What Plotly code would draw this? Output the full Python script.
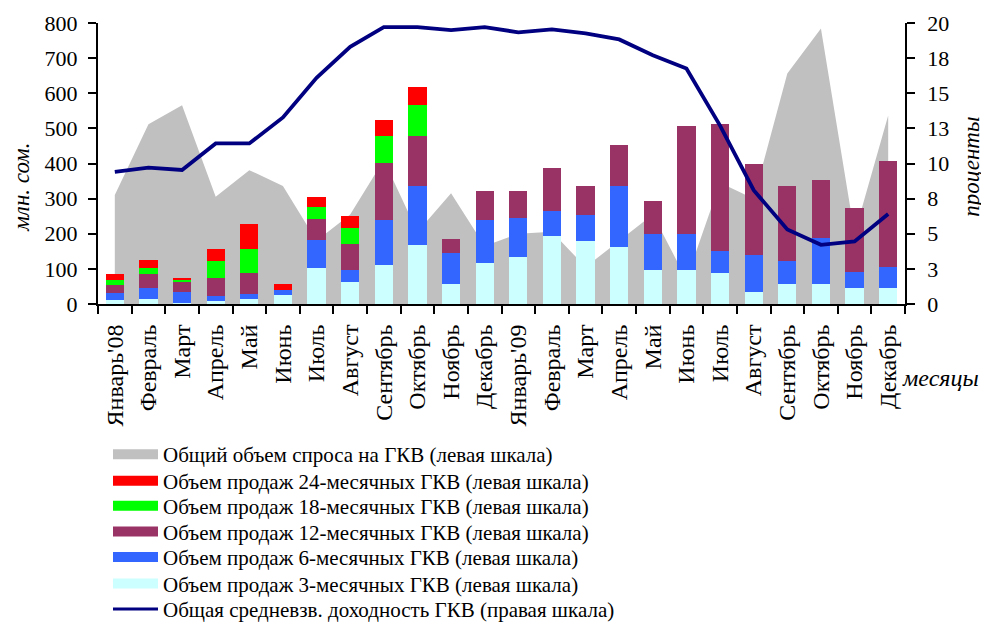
import plotly.graph_objects as go

months = ["Январь'08", "Февраль", "Март", "Апрель", "Май", "Июнь", "Июль", "Август",
          "Сентябрь", "Октябрь", "Ноябрь", "Декабрь", "Январь'09", "Февраль", "Март",
          "Апрель", "Май", "Июнь", "Июль", "Август", "Сентябрь", "Октябрь", "Ноябрь", "Декабрь"]

demand_total = [310, 512, 566, 305, 381, 336, 180, 255, 410, 205, 315, 165,
                200, 206, 105, 180, 255, 70, 345, 300, 656, 784, 200, 537]

sales_3m = [10, 15, 2, 9, 15, 27, 103, 63, 112, 168, 58, 117,
            134, 194, 180, 163, 97, 97, 89, 35, 58, 58, 46, 46]
sales_6m = [22, 31, 33, 15, 14, 14, 80, 34, 128, 168, 88, 123,
            111, 71, 74, 173, 103, 103, 62, 105, 65, 130, 46, 60]
sales_12m = [21, 40, 28, 51, 60, 0, 59, 74, 161, 142, 40, 82,
             77, 122, 82, 116, 93, 306, 361, 259, 213, 165, 182, 301]
sales_18m = [16, 17, 6, 48, 68, 0, 34, 46, 77, 88, 0, 0,
             0, 0, 0, 0, 0, 0, 0, 0, 0, 0, 0, 0]
sales_24m = [17, 23, 6, 34, 71, 17, 29, 34, 45, 51, 0, 0,
             0, 0, 0, 0, 0, 0, 0, 0, 0, 0, 0, 0]

yield_avg = [9.4, 9.7, 9.54, 11.43, 11.43, 13.28, 16.1, 18.3, 19.7, 19.7, 19.5, 19.7,
             19.34, 19.55, 19.27, 18.83, 17.7, 16.76, 12.7, 8.1, 5.3, 4.21, 4.45, 6.41]

right_tickvals = [0, 2.5, 5, 7.5, 10, 12.5, 15, 17.5, 20]
right_ticktext = ["0", "3", "5", "8", "10", "13", "15", "18", "20"]

legend_names = [
    "Общий объем спроса на ГКВ (левая шкала)",
    "Объем продаж 24-месячных ГКВ (левая шкала)",
    "Объем продаж 18-месячных ГКВ (левая шкала)",
    "Объем продаж 12-месячных ГКВ (левая шкала)",
    "Объем продаж 6-месячных ГКВ (левая шкала)",
    "Объем продаж 3-месячных ГКВ (левая шкала)",
    "Общая средневзв. доходность ГКВ (правая шкала)",
]

C_GRAY = "#C0C0C0"
C_RED = "#FF0000"
C_GREEN = "#00FF00"
C_PURPLE = "#993366"
C_BLUE = "#3366FF"
C_CYAN = "#CCFFFF"
C_NAVY = "#000080"

FONT = "Liberation Serif, Times New Roman, serif"
x = list(range(len(months)))

# The page body has an 8px margin, so the figure is placed at (8, 8) in the window.
OFF = 8
W, H = 989 - OFF, 622 - OFF
# target screen coordinates of the plot area
S_LEFT, S_RIGHT, S_TOP, S_BOT = 98, 905, 23, 304.3
pl, pr = S_LEFT - OFF, S_RIGHT - OFF
pt, pb = S_TOP - OFF, S_BOT - OFF


def px_x(p):
    return ((p - OFF) - pl) / (pr - pl)


def px_y(p):
    return (pb - (p - OFF)) / (pb - pt)


fig = go.Figure()

# area (drawn on base axis, behind everything)
fig.add_trace(go.Scatter(x=x, y=demand_total, mode="lines", fill="tozeroy",
                         fillcolor=C_GRAY, line=dict(width=0, color=C_GRAY),
                         showlegend=False, xaxis="x", yaxis="y"))

# stacked bars on overlaying axis y2
for vals, col in [(sales_3m, C_CYAN), (sales_6m, C_BLUE), (sales_12m, C_PURPLE),
                  (sales_18m, C_GREEN), (sales_24m, C_RED)]:
    fig.add_trace(go.Bar(x=x, y=vals, marker=dict(color=col, line=dict(width=0)),
                         width=0.54, showlegend=False, xaxis="x", yaxis="y2"))

# yield line on right axis y3
fig.add_trace(go.Scatter(x=x, y=yield_avg, mode="lines",
                         line=dict(color=C_NAVY, width=3.8),
                         showlegend=False, xaxis="x", yaxis="y3"))

# legend entries
leg_colors = [C_GRAY, C_RED, C_GREEN, C_PURPLE, C_BLUE, C_CYAN, C_NAVY]
leg_widths = [14, 14, 14, 14, 14, 14, 3]
leg_centers_px = [455, 481.5, 506.5, 532.5, 558, 584.5, 610]

layout_legends = {}
for i, (name, col, lw, cy) in enumerate(zip(legend_names, leg_colors, leg_widths, leg_centers_px)):
    lname = "legend" if i == 0 else f"legend{i+1}"
    fig.add_trace(go.Scatter(x=[None], y=[None], mode="lines", name=name,
                             line=dict(color=col, width=lw), legend=lname,
                             showlegend=True, xaxis="x", yaxis="y"))
    layout_legends[lname] = dict(
        x=px_x(108), xanchor="left",
        y=px_y(cy), yanchor="middle",
        bgcolor="rgba(0,0,0,0)", borderwidth=0, itemwidth=45,
        font=dict(family=FONT, size=21, color="black"),
        tracegroupgap=0,
    )

fig.update_layout(
    width=W, height=H,
    margin=dict(l=pl, r=W - pr, t=pt, b=H - pb, autoexpand=False),
    paper_bgcolor="white", plot_bgcolor="white",
    barmode="stack",
    font=dict(family=FONT, size=21, color="black"),
    xaxis=dict(range=[-0.5, 23.5], tickmode="array", tickvals=x, ticktext=months,
               tickangle=-90, ticks="outside", ticklen=9, tickcolor="rgba(0,0,0,0)",
               showline=True, linecolor="black", linewidth=2,
               showgrid=False, zeroline=False, automargin=False,
               tickfont=dict(family=FONT, size=24, color="black"),
               minor=dict(ticks="outside", tick0=-0.5, dtick=1, ticklen=8,
                          tickcolor="black", tickwidth=2, showgrid=False)),
    yaxis=dict(range=[0, 800], tickvals=list(range(0, 801, 100)), ticks="outside",
               ticklen=8, tickwidth=2, tickcolor="black", ticklabelstandoff=6,
               showline=True, linecolor="black", linewidth=2,
               showgrid=False, zeroline=False, automargin=False,
               tickfont=dict(family=FONT, size=22, color="black")),
    yaxis2=dict(range=[0, 800], overlaying="y", visible=False, showgrid=False),
    yaxis3=dict(range=[0, 20], overlaying="y", side="right", anchor="x",
                tickmode="array", tickvals=right_tickvals, ticktext=right_ticktext,
                ticks="outside", ticklen=8, tickwidth=1.5, tickcolor="black",
                ticklabelstandoff=8,
                showline=True, linecolor="black", linewidth=1.5,
                showgrid=False, zeroline=False, automargin=False,
                tickfont=dict(family=FONT, size=22, color="black")),
    annotations=[
        dict(text="<i>млн. сом.</i>", x=px_x(22), y=px_y(188), xref="paper", yref="paper",
             xanchor="center", yanchor="middle",
             showarrow=False, textangle=-90, font=dict(family=FONT, size=23)),
        dict(text="<i>проценты</i>", x=px_x(972), y=px_y(167), xref="paper", yref="paper",
             xanchor="center", yanchor="middle",
             showarrow=False, textangle=-90, font=dict(family=FONT, size=23)),
        dict(text="<i>месяцы</i>", x=px_x(940), y=px_y(378), xref="paper", yref="paper",
             xanchor="center", yanchor="middle",
             showarrow=False, font=dict(family=FONT, size=24)),
    ],
    **layout_legends,
)

fig.write_html("out.html")
